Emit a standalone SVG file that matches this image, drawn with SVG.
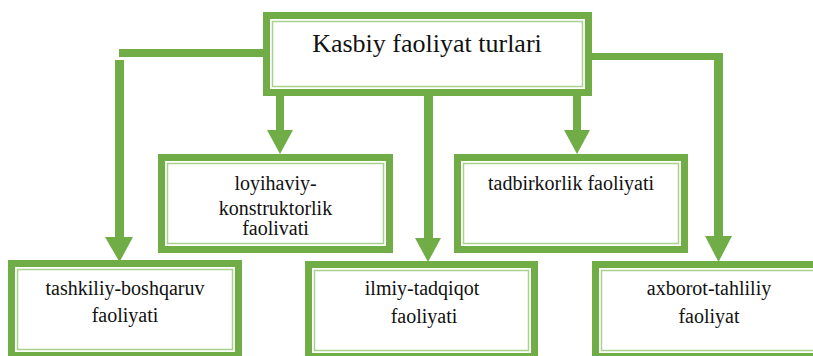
<svg xmlns="http://www.w3.org/2000/svg" width="813" height="356" viewBox="0 0 813 356">
<defs>
<rect id="bo" width="10" height="10"/>
</defs>
<rect width="813" height="356" fill="#fff"/>
<g id="connectors" fill="#70AD47">
<rect x="119" y="49" width="146" height="8"/>
<rect x="115" y="60" width="9" height="178"/>
<polygon points="105,237 133,237 119.5,262"/>
<rect x="590" y="53" width="133" height="7"/>
<rect x="714" y="58" width="9" height="179"/>
<polygon points="705,236 732,236 718.5,262"/>
<rect x="276" y="94" width="8" height="37"/>
<polygon points="267,130 293,130 280,154"/>
<rect x="573" y="94" width="8" height="37"/>
<polygon points="564,130 590,130 577,154"/>
<rect x="424" y="94" width="9" height="145"/>
<polygon points="415,238 441,238 428,262"/>
</g>
<g id="top">
<rect x="266.5" y="15.5" width="322" height="77" fill="#fff" stroke="#70AD47" stroke-width="7"/>
<rect x="272.5" y="21.5" width="310" height="65" fill="none" stroke="#A9D18E" stroke-width="1.5"/>
<text x="427" y="52" font-size="26" font-family="'Liberation Serif', serif" fill="#111" text-anchor="middle">Kasbiy faoliyat turlari</text>
</g>
<g id="loyihaviy" font-size="20" font-family="'Liberation Serif', serif" fill="#111" text-anchor="middle">
<rect x="161.5" y="157.5" width="228" height="92" fill="#fff" stroke="#70AD47" stroke-width="7"/>
<rect x="167.5" y="163.5" width="216" height="80" fill="none" stroke="#A9D18E" stroke-width="1.5"/>
<text x="275.5" y="190">loyihaviy-</text>
<text x="275.5" y="215">konstruktorlik</text>
<text x="275.5" y="235">faolivati</text>
</g>
<g id="tadbirkorlik" font-size="20" font-family="'Liberation Serif', serif" fill="#111" text-anchor="middle">
<rect x="457.5" y="157.5" width="227" height="92" fill="#fff" stroke="#70AD47" stroke-width="7"/>
<rect x="463.5" y="163.5" width="215" height="80" fill="none" stroke="#A9D18E" stroke-width="1.5"/>
<text x="571" y="190">tadbirkorlik faoliyati</text>
</g>
<g id="tashkiliy" font-size="20" font-family="'Liberation Serif', serif" fill="#111" text-anchor="middle">
<rect x="11.5" y="263.5" width="227" height="92" fill="#fff" stroke="#70AD47" stroke-width="7"/>
<rect x="17.5" y="269.5" width="215" height="80" fill="none" stroke="#A9D18E" stroke-width="1.5"/>
<text x="125" y="295">tashkiliy-boshqaruv</text>
<text x="125" y="322">faoliyati</text>
</g>
<g id="ilmiy" font-size="20" font-family="'Liberation Serif', serif" fill="#111" text-anchor="middle">
<rect x="308.5" y="264.5" width="226" height="92" fill="#fff" stroke="#70AD47" stroke-width="7"/>
<rect x="314.5" y="270.5" width="214" height="80" fill="none" stroke="#A9D18E" stroke-width="1.5"/>
<text x="422" y="295">ilmiy-tadqiqot</text>
<text x="424" y="323">faoliyati</text>
</g>
<g id="axborot" font-size="20" font-family="'Liberation Serif', serif" fill="#111" text-anchor="middle">
<rect x="595.5" y="264.5" width="227" height="92" fill="#fff" stroke="#70AD47" stroke-width="7"/>
<rect x="601.5" y="270.5" width="215" height="80" fill="none" stroke="#A9D18E" stroke-width="1.5"/>
<text x="709" y="295">axborot-tahliliy</text>
<text x="709" y="323">faoliyat</text>
</g>
</svg>
